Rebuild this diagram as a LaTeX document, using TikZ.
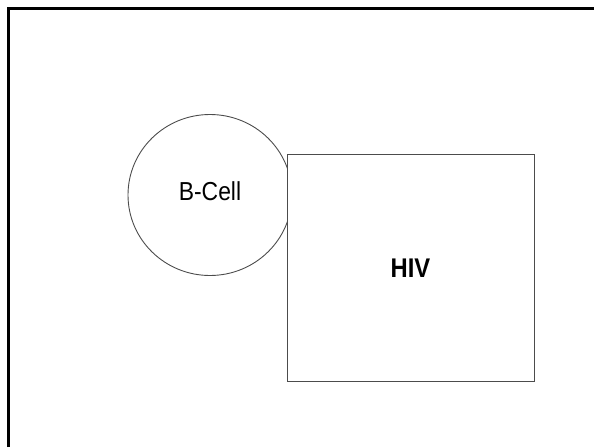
\documentclass[tikz,border=0pt]{standalone}
\usepackage{fontspec}
\setmainfont{Liberation Sans}[FakeStretch=0.88]
\usetikzlibrary{shapes.geometric}
\begin{document}
\begin{tikzpicture}[x=1pt,y=-1pt,
  frame/.style={line width=3pt,black},
  shapeline/.style={draw=black!70,line width=0.9pt},
  cellbox/.style={ellipse,shapeline,minimum width=164pt,minimum height=161pt,inner sep=0pt},
  virbox/.style={rectangle,shapeline,fill=white,minimum width=247pt,minimum height=227pt,inner sep=0pt}]
\useasboundingbox (0,0) rectangle (594,447);
\draw[frame] (8,447) -- (8,8) -- (594,8);
\node[cellbox] (bcell) at (210,195) {};
\node[font=\fontsize{26}{30}\selectfont] (bcelltext) at (210,191) {B-Cell};
\node[virbox] (hiv) at (410.5,267.5) {};
\node[font=\fontsize{27}{31}\selectfont\bfseries] (hivtext) at (410.5,268) {HIV};
\end{tikzpicture}
\end{document}
